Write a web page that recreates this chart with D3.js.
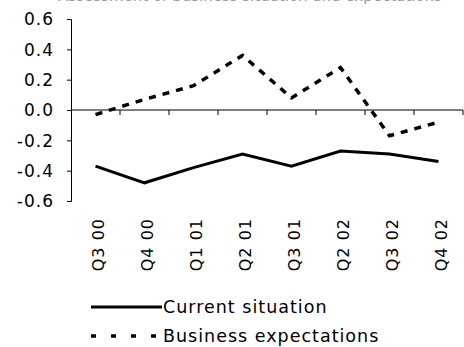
<!DOCTYPE html>
<html><head><meta charset="utf-8">
<script src="https://cdn.jsdelivr.net/npm/d3@7"></script>
<style>body{margin:0;background:#fff}svg{display:block}text{font-family:"DejaVu Sans",sans-serif;fill:#000}</style>
</head><body><svg id="c" width="464" height="347"></svg>
<script>
const categories = ["Q3 00","Q4 00","Q1 01","Q2 01","Q3 01","Q2 02","Q3 02","Q4 02"];
const currentSituation = [-0.37,-0.48,-0.38,-0.29,-0.37,-0.27,-0.29,-0.34];
const businessExpectations = [-0.03,0.07,0.16,0.36,0.08,0.28,-0.17,-0.08];
const yTicks = [0.6,0.4,0.2,0.0,-0.2,-0.4,-0.6];
const seriesNames = ["Current situation","Business expectations"];
const titleText = "Assessment of business situation and expectations";

const svg = d3.select("#c");
const x = d3.scaleBand().domain(categories).range([71,463]);
const y = d3.scaleLinear().domain([-0.6,0.6]).range([201,19]);

svg.append("text").attr("x",250).attr("y",1.2).attr("text-anchor","middle")
  .style("font-size","15px").style("fill","#999").text(titleText);

// y axis
const ya = svg.append("g").attr("transform","translate(71,0)")
  .call(d3.axisLeft(y).tickValues(yTicks).tickFormat(d3.format(".1f")).tickSizeOuter(0).tickSize(4));
ya.select(".domain").attr("stroke","#000");
ya.selectAll("text").style("font-size","17px").style("letter-spacing","1px")
  .attr("x",-17).attr("dy","0.35em")
  .text(d=>d3.format(".1f")(d).replace("−","-"));

// x axis at zero
const xa = svg.append("g").attr("transform",`translate(0,${y(0)})`)
  .call(d3.axisBottom(x).tickSize(0).tickSizeOuter(0).tickFormat(""));
xa.select(".domain").attr("stroke","#000").attr("d",`M71,0H463`);
const bounds = categories.map(c=>x(c)).concat([x.range()[1]]);
xa.selectAll(".bt").data(bounds.slice(1)).enter().append("line").attr("class","bt")
  .attr("x1",d=>d).attr("x2",d=>d).attr("y1",0).attr("y2",5).attr("stroke","#000");

// x labels
svg.selectAll(".xl").data(categories).enter().append("text")
  .attr("transform",d=>`translate(${x(d)+x.bandwidth()/2+8},218) rotate(-90)`)
  .attr("text-anchor","end").style("font-size","16px").style("letter-spacing","1px").text(d=>d);

const line = d3.line().x((d,i)=>x(categories[i])+x.bandwidth()/2).y(d=>y(d));
svg.append("path").datum(currentSituation).attr("d",line).attr("fill","none")
  .attr("stroke","#000").attr("stroke-width",3);
svg.append("path").datum(businessExpectations).attr("d",line).attr("fill","none")
  .attr("stroke","#000").attr("stroke-width",3.5).attr("stroke-dasharray","7,7");

// legend
const lg = [{y:307,dash:null,w:3},{y:336,dash:"5,15",w:3.5}];
lg.forEach((l,i)=>{
  svg.append("line").attr("x1",91).attr("x2",162).attr("y1",l.y).attr("y2",l.y)
    .attr("stroke","#000").attr("stroke-width",l.w).attr("stroke-dasharray",l.dash);
  svg.append("text").attr("x",163).attr("y",l.y).attr("dy","0.35em")
    .style("font-size","17.5px").style("letter-spacing","1px").text(seriesNames[i]);
});
</script></body></html>
